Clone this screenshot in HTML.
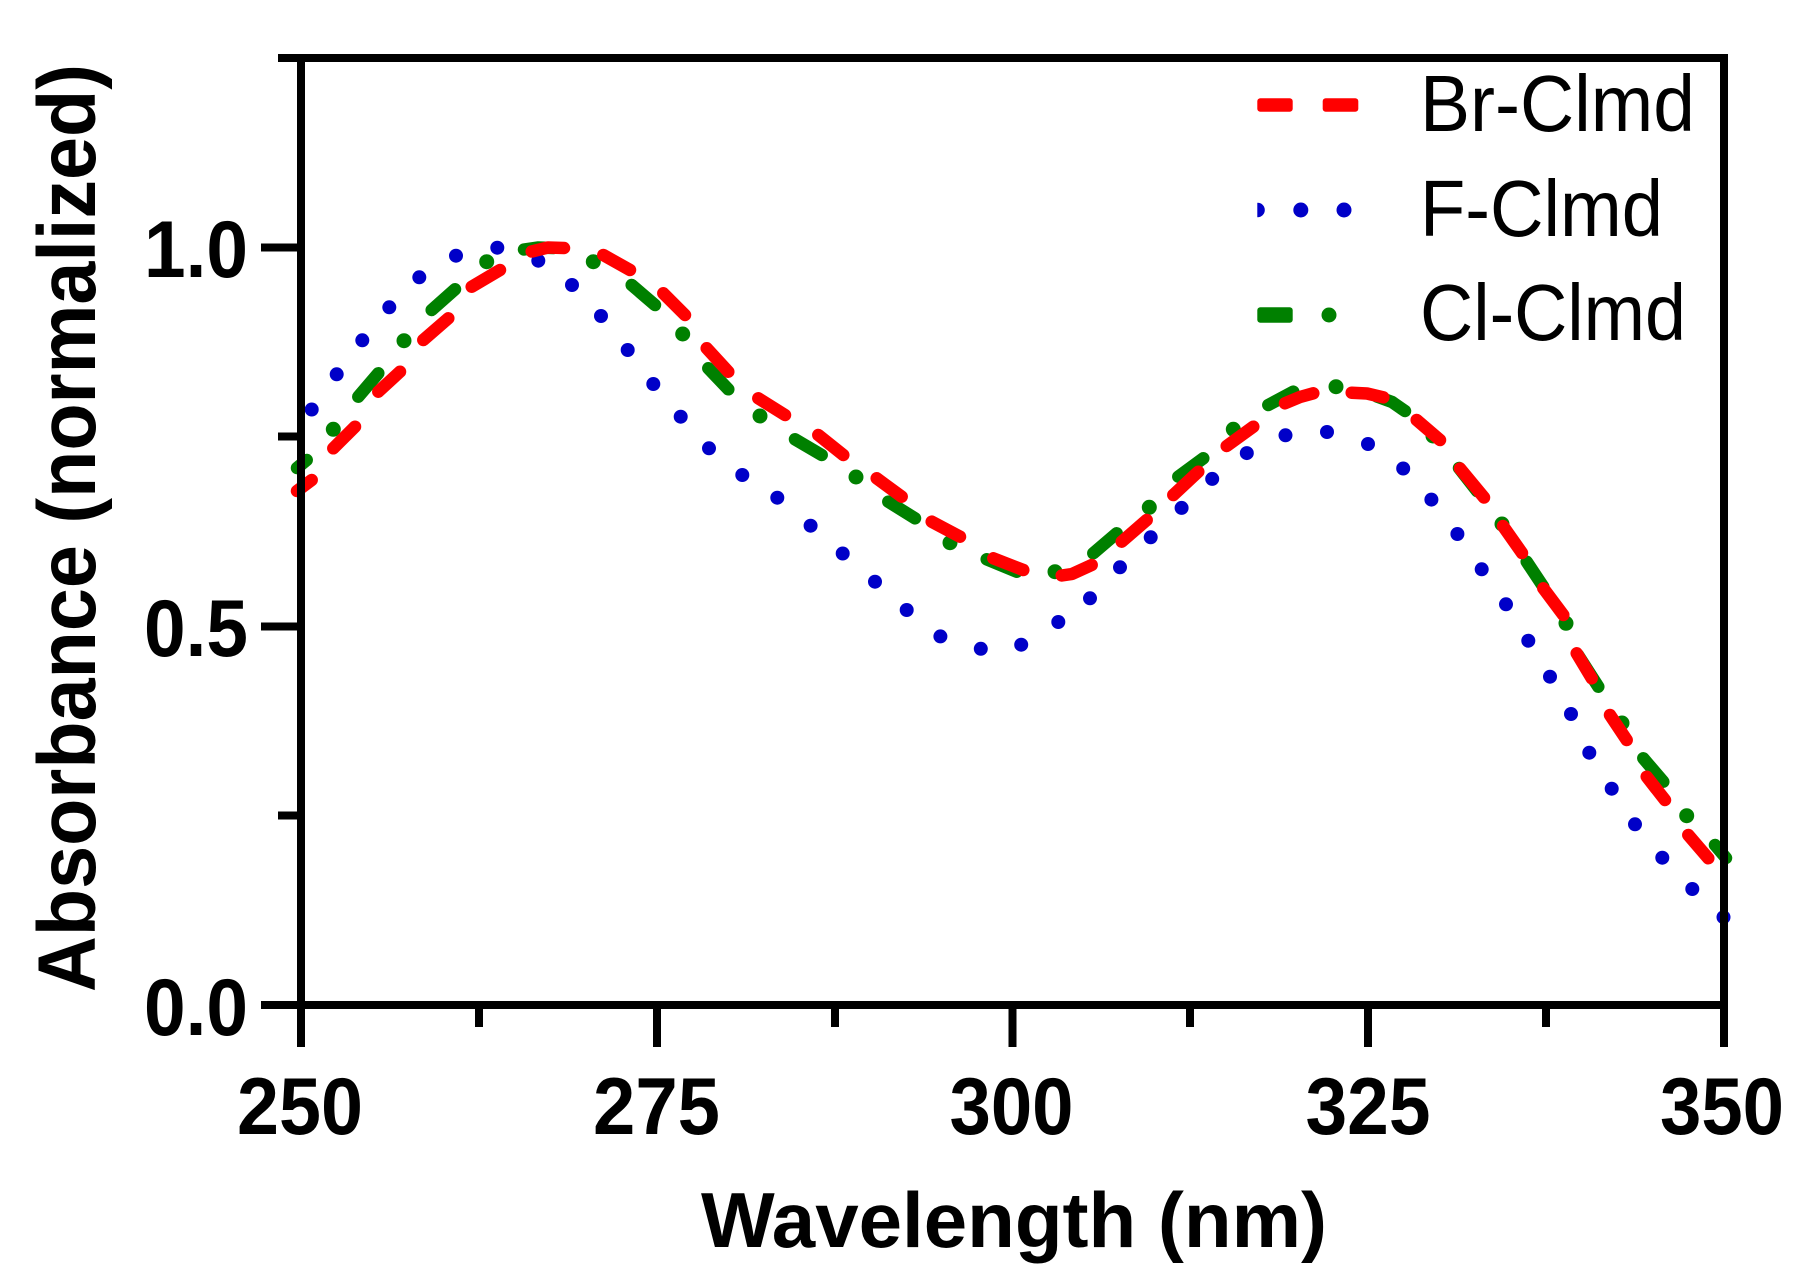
<!DOCTYPE html>
<html>
<head>
<meta charset="utf-8">
<style>
html,body{margin:0;padding:0;background:#fff;}
svg{display:block;}
text{font-family:"Liberation Sans",Arial,sans-serif;fill:#000;}
</style>
</head>
<body>
<svg width="1805" height="1284" viewBox="0 0 1805 1284" xmlns="http://www.w3.org/2000/svg">
<rect width="1805" height="1284" fill="#fff"/>
<defs>
<clipPath id="lgclip"><rect x="1257.3" y="195" width="120" height="30"/></clipPath>
</defs>

<!-- Blue dotted series (F-Clmd) -->
<g fill="#0000c8">
<circle cx="311.7" cy="409.5" r="7"/><circle cx="336.7" cy="374.3" r="7"/><circle cx="362.3" cy="340.3" r="7"/>
<circle cx="389.3" cy="307.3" r="7"/><circle cx="419.3" cy="277.3" r="7"/><circle cx="456" cy="255.7" r="7"/>
<circle cx="497.3" cy="247.7" r="7"/><circle cx="538.3" cy="260.7" r="7"/><circle cx="572" cy="285" r="7"/>
<circle cx="601" cy="316" r="7"/><circle cx="627.7" cy="350" r="7"/><circle cx="653.3" cy="384" r="7"/>
<circle cx="680.7" cy="416.7" r="7"/><circle cx="709" cy="448.3" r="7"/><circle cx="742.3" cy="475" r="7"/>
<circle cx="777.3" cy="497.7" r="7"/><circle cx="810.6" cy="525.7" r="7"/><circle cx="842.7" cy="553.5" r="7"/>
<circle cx="875" cy="581.7" r="7"/><circle cx="906.7" cy="610" r="7"/><circle cx="940.4" cy="636.4" r="7"/>
<circle cx="980.8" cy="648.8" r="7"/><circle cx="1021.2" cy="644.7" r="7"/><circle cx="1058.3" cy="622" r="7"/>
<circle cx="1090" cy="598.3" r="7"/><circle cx="1120" cy="567.3" r="7"/><circle cx="1150.7" cy="537.3" r="7"/>
<circle cx="1181.6" cy="507.9" r="7"/><circle cx="1212.2" cy="478.9" r="7"/><circle cx="1246.8" cy="453.1" r="7"/>
<circle cx="1285.5" cy="435.3" r="7"/><circle cx="1327" cy="432" r="7"/><circle cx="1368" cy="444" r="7"/>
<circle cx="1403.2" cy="468.5" r="7"/><circle cx="1431.4" cy="499.6" r="7"/><circle cx="1457.4" cy="534" r="7"/>
<circle cx="1481.7" cy="569.3" r="7"/><circle cx="1506" cy="604.3" r="7"/><circle cx="1528.3" cy="640.7" r="7"/>
<circle cx="1550" cy="676.7" r="7"/><circle cx="1571" cy="714" r="7"/><circle cx="1589.3" cy="752.7" r="7"/>
<circle cx="1611.7" cy="788.7" r="7"/><circle cx="1635" cy="824.3" r="7"/><circle cx="1662.3" cy="857.7" r="7"/>
<circle cx="1692.3" cy="889" r="7"/><circle cx="1723.5" cy="917.2" r="7"/>
</g>

<!-- Green dash-dot series (Cl-Clmd) -->
<g stroke="#008000" stroke-width="12.5" stroke-linecap="round" fill="none">
<line x1="297" y1="468" x2="306.7" y2="460"/>
<line x1="358.3" y1="396.7" x2="378.3" y2="373.3"/>
<line x1="431.7" y1="310" x2="455" y2="289.3"/>
<polyline points="524,249.5 538,247.5 553,248"/>
<line x1="631.7" y1="285" x2="655" y2="305"/>
<line x1="708.3" y1="368.3" x2="728.3" y2="389.3"/>
<line x1="795" y1="439.3" x2="821.7" y2="455"/>
<line x1="888.3" y1="501.7" x2="915" y2="518.3"/>
<line x1="986.7" y1="559.3" x2="1016.7" y2="571.7"/>
<line x1="1093.3" y1="553.3" x2="1116.7" y2="533.3"/>
<line x1="1178.3" y1="476.7" x2="1203.3" y2="458.3"/>
<line x1="1268.3" y1="405" x2="1293.3" y2="391.7"/>
<polyline points="1377,396.5 1392,402 1405,411"/>
<line x1="1459" y1="468" x2="1477" y2="491"/>
<line x1="1526.7" y1="561.7" x2="1543.3" y2="586.7"/>
<line x1="1578" y1="655" x2="1598.3" y2="686.7"/>
<line x1="1643.3" y1="758.3" x2="1663.3" y2="781.7"/>
<line x1="1715" y1="845" x2="1726" y2="858"/>
</g>
<g fill="#008000">
<circle cx="333.3" cy="429.3" r="7.5"/><circle cx="404" cy="340.7" r="7.5"/><circle cx="486.7" cy="261.7" r="7.5"/>
<circle cx="593.3" cy="261.7" r="7.5"/><circle cx="682.7" cy="334" r="7.5"/><circle cx="760" cy="416" r="7.5"/>
<circle cx="856" cy="477" r="7.5"/><circle cx="950" cy="542.7" r="7.5"/><circle cx="1055" cy="571.7" r="7.5"/>
<circle cx="1149.3" cy="507.3" r="7.5"/><circle cx="1233.3" cy="429.3" r="7.5"/><circle cx="1336" cy="386.7" r="7.5"/>
<circle cx="1433" cy="436" r="7.5"/><circle cx="1502" cy="524" r="7.5"/><circle cx="1566" cy="623.3" r="7.5"/>
<circle cx="1622" cy="723" r="7.5"/><circle cx="1686.7" cy="815.7" r="7.5"/>
</g>

<!-- Red dashed series (Br-Clmd) -->
<g stroke="#ff0000" stroke-width="12.5" stroke-linecap="round" stroke-linejoin="round" fill="none">
<line x1="297" y1="491" x2="311.7" y2="480"/>
<line x1="333.3" y1="448.3" x2="355" y2="426.7"/>
<line x1="378.3" y1="391.7" x2="400" y2="371.7"/>
<line x1="423.3" y1="340" x2="448.3" y2="318.3"/>
<line x1="471.7" y1="286.7" x2="500" y2="270"/>
<polyline points="531.7,251.5 548,247.5 564,248"/>
<line x1="603.3" y1="255" x2="630" y2="270"/>
<line x1="663.3" y1="293.3" x2="685" y2="315"/>
<line x1="706.7" y1="348.3" x2="728.3" y2="371.7"/>
<line x1="758.3" y1="398.3" x2="785" y2="415"/>
<line x1="818.3" y1="435" x2="843.3" y2="455"/>
<line x1="876.7" y1="478.3" x2="901.7" y2="496.7"/>
<line x1="931.7" y1="521.7" x2="960" y2="536.7"/>
<line x1="993.3" y1="558.3" x2="1023.3" y2="570"/>
<polyline points="1061.7,575.5 1072,574 1091.7,565"/>
<line x1="1121.7" y1="541.7" x2="1146.7" y2="520"/>
<line x1="1173.3" y1="495" x2="1198.3" y2="471.7"/>
<line x1="1226.7" y1="446" x2="1253.3" y2="426.7"/>
<polyline points="1285,403.3 1300,397 1313.3,393.3"/>
<polyline points="1351.7,392.7 1367,393.5 1383.3,397.3"/>
<line x1="1416.7" y1="420" x2="1440" y2="440"/>
<line x1="1460" y1="468.5" x2="1484" y2="497.5"/>
<line x1="1503" y1="526" x2="1522" y2="553"/>
<line x1="1543.3" y1="588.3" x2="1563.3" y2="615"/>
<line x1="1576.7" y1="653.3" x2="1591.7" y2="678.3"/>
<line x1="1610" y1="715" x2="1626.7" y2="740"/>
<line x1="1646.7" y1="776.7" x2="1665" y2="800"/>
<line x1="1688.3" y1="835" x2="1708.3" y2="858.3"/>
</g>

<!-- Axes / frame -->
<g stroke="#000" stroke-width="8" fill="none" stroke-linecap="butt">
<line x1="301" y1="54" x2="301" y2="1047"/>
<line x1="278" y1="58" x2="1728" y2="58"/>
<line x1="1724" y1="54" x2="1724" y2="1047"/>
<line x1="261" y1="1005" x2="1728" y2="1005"/>
<line x1="261" y1="626.5" x2="301" y2="626.5"/>
<line x1="261" y1="247.5" x2="301" y2="247.5"/>
<line x1="278" y1="815.5" x2="301" y2="815.5"/>
<line x1="278" y1="436.5" x2="301" y2="436.5"/>
<line x1="657" y1="1005" x2="657" y2="1047"/>
<line x1="1012.5" y1="1005" x2="1012.5" y2="1047"/>
<line x1="1368" y1="1005" x2="1368" y2="1047"/>
<line x1="479" y1="1005" x2="479" y2="1027"/>
<line x1="835" y1="1005" x2="835" y2="1027"/>
<line x1="1190" y1="1005" x2="1190" y2="1027"/>
<line x1="1546" y1="1005" x2="1546" y2="1027"/>
</g>

<!-- Y tick labels -->
<g font-weight="bold" font-size="81" text-anchor="end">
<text x="248" y="277" textLength="104" lengthAdjust="spacingAndGlyphs">1.0</text>
<text x="248" y="656" textLength="104" lengthAdjust="spacingAndGlyphs">0.5</text>
<text x="248" y="1035" textLength="104" lengthAdjust="spacingAndGlyphs">0.0</text>
</g>
<!-- X tick labels -->
<g font-weight="bold" font-size="81" text-anchor="middle">
<text x="300" y="1134" textLength="126" lengthAdjust="spacingAndGlyphs">250</text>
<text x="656.5" y="1134" textLength="127" lengthAdjust="spacingAndGlyphs">275</text>
<text x="1011.5" y="1134" textLength="124" lengthAdjust="spacingAndGlyphs">300</text>
<text x="1368" y="1134" textLength="125" lengthAdjust="spacingAndGlyphs">325</text>
<text x="1722" y="1134" textLength="124" lengthAdjust="spacingAndGlyphs">350</text>
</g>

<!-- Axis titles -->
<text x="1014" y="1247" font-weight="bold" font-size="78" text-anchor="middle" textLength="626" lengthAdjust="spacingAndGlyphs">Wavelength (nm)</text>
<text transform="translate(95,528) rotate(-90)" x="0" y="0" font-weight="bold" font-size="82" text-anchor="middle" textLength="928" lengthAdjust="spacingAndGlyphs">Absorbance (normalized)</text>

<!-- Legend -->
<rect x="1257.3" y="98.3" width="35.4" height="13.4" rx="3" fill="#ff0000"/>
<rect x="1322.7" y="98.3" width="35.6" height="13.4" rx="3" fill="#ff0000"/>
<g fill="#0000c8">
<circle cx="1257.6" cy="210" r="7.2" clip-path="url(#lgclip)"/>
<circle cx="1300.8" cy="210" r="7.5"/>
<circle cx="1344" cy="210" r="7.5"/>
</g>
<rect x="1257.3" y="307.3" width="35.4" height="15.4" rx="3" fill="#008000"/>
<circle cx="1329" cy="315" r="7.5" fill="#008000"/>
<g font-size="80">
<text x="1420" y="131" textLength="275" lengthAdjust="spacingAndGlyphs">Br-Clmd</text>
<text x="1420" y="236" textLength="243" lengthAdjust="spacingAndGlyphs">F-Clmd</text>
<text x="1420" y="340" textLength="266" lengthAdjust="spacingAndGlyphs">Cl-Clmd</text>
</g>
</svg>
</body>
</html>
